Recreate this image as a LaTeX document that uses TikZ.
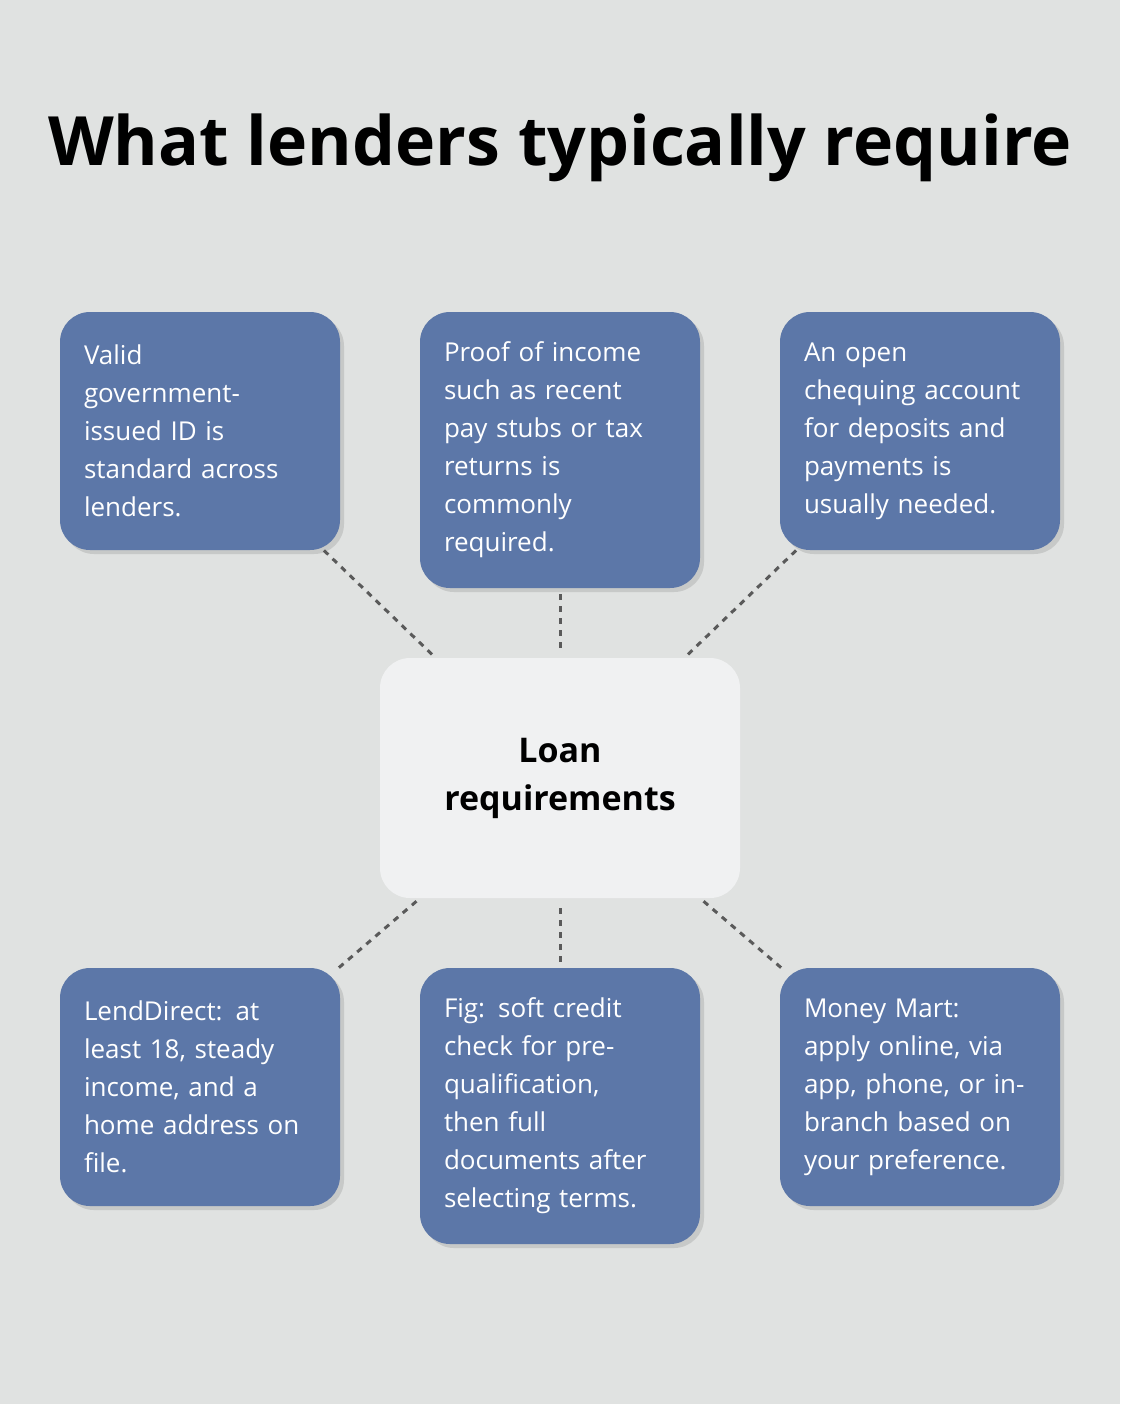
\documentclass[tikz,border=0pt]{standalone}
\usepackage{fontspec}
\setmainfont{Open Sans}
\usetikzlibrary{positioning,shadows}
\definecolor{bgcol}{HTML}{E0E2E1}
\definecolor{boxcol}{HTML}{5C77A8}
\definecolor{hubcol}{HTML}{F0F1F2}
\definecolor{linkcol}{HTML}{5A5A5A}
\tikzstyle{req}=[rounded corners=15pt,fill=boxcol,text=white,minimum width=140pt,
                 text width=116pt,inner xsep=12pt,align=left,font=\fontsize{13}{19}\selectfont,
                 drop shadow={opacity=0.25,shadow xshift=2pt,shadow yshift=-2pt}]
\tikzstyle{hub}=[rounded corners=15pt,fill=hubcol,minimum width=180pt,minimum height=120pt,
                 align=center,font=\fontsize{17}{24}\selectfont\bfseries]
\tikzstyle{link}=[linkcol,line width=1.5pt,dash pattern=on 3pt off 3pt]

\begin{document}
\begin{tikzpicture}[x=0.5pt,y=-0.5pt]

% Background
\fill[bgcol] (0,0) rectangle (1120,1404);
\useasboundingbox (0,0) rectangle (1120,1404);

% Title
\node[font=\fontsize{34}{40}\selectfont\bfseries] (title) at (560,148) {What lenders typically require};

% Centre
\node[hub] (loan) at (560,778) {Loan\\requirements};

% Top row
\node[req,minimum height=119pt] (id) at (200,431)
  {Valid\\government-\\issued ID is\\standard across\\lenders.};
\node[req,minimum height=138pt] (income) at (560,450)
  {Proof of income\\such as recent\\pay stubs or tax\\returns is\\commonly\\required.};
\node[req,minimum height=119pt] (bank) at (920,431)
  {An open\\chequing account\\for deposits and\\payments is\\usually needed.};

% Bottom row
\node[req,minimum height=119pt] (lend) at (200,1087)
  {LendDirect: at\\least 18, steady\\income, and a\\home address on\\file.};
\node[req,minimum height=138pt] (fig) at (560,1106)
  {Fig: soft credit\\check for pre-\\qualification,\\then full\\documents after\\selecting terms.};
\node[req,minimum height=119pt] (mart) at (920,1087)
  {Money Mart:\\apply online, via\\app, phone, or in-\\branch based on\\your preference.};

% Links
\draw[link] (id) -- (loan);
\draw[link,shorten <=3pt,shorten >=3pt] (income) -- (loan);
\draw[link] (bank) -- (loan);
\draw[link] (lend) -- (loan);
\draw[link,shorten <=3pt,shorten >=3pt] (fig) -- (loan);
\draw[link] (mart) -- (loan);

\end{tikzpicture}
\end{document}
